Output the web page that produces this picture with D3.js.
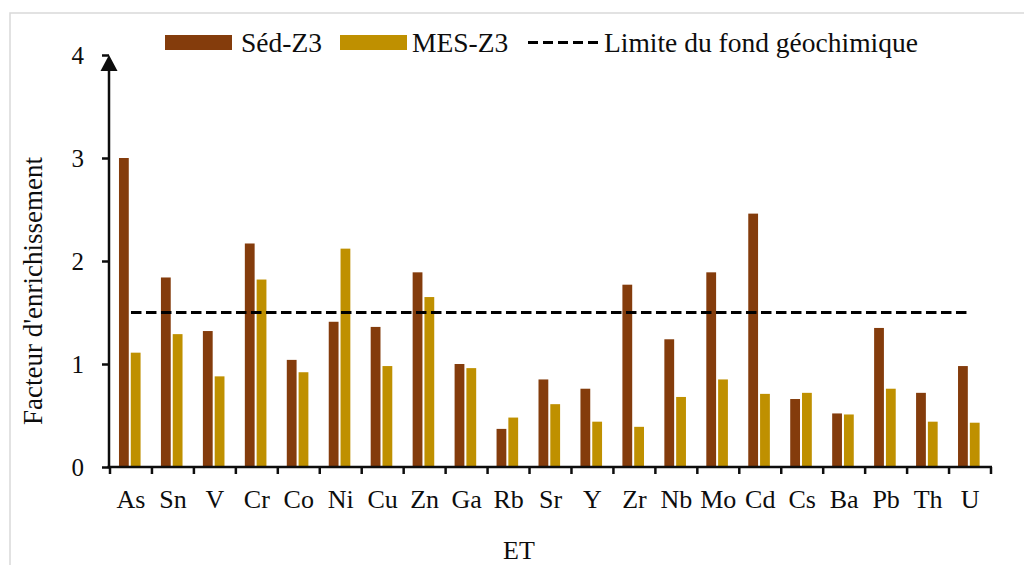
<!DOCTYPE html>
<html>
<head>
<meta charset="utf-8">
<script src="https://cdn.jsdelivr.net/npm/d3@7"></script>
<style>
  html, body { margin: 0; padding: 0; background: #fff; }
  svg { display: block; font-family: "Liberation Serif", "Times New Roman", serif; }
</style>
</head>
<body>
<svg id="chart" width="1024" height="565"></svg>
<script>
const categories = ["As","Sn","V","Cr","Co","Ni","Cu","Zn","Ga","Rb","Sr","Y","Zr","Nb","Mo","Cd","Cs","Ba","Pb","Th","U"];
const seriesNames = ["Séd-Z3", "MES-Z3"];
const sedZ3 = [3.00,1.84,1.32,2.17,1.04,1.41,1.36,1.89,1.00,0.37,0.85,0.76,1.77,1.24,1.89,2.46,0.66,0.52,1.35,0.72,0.98];
const mesZ3 = [1.11,1.29,0.88,1.82,0.92,2.12,0.98,1.65,0.96,0.48,0.61,0.44,0.39,0.68,0.85,0.71,0.72,0.51,0.76,0.44,0.43];
const backgroundLimit = 1.5;
const limitLabel = "Limite du fond géochimique";
const yTicks = [0,1,2,3,4];
const xTitle = "ET";
const yTitle = "Facteur d'enrichissement";

const colors = {"Séd-Z3": "#843C0C", "MES-Z3": "#BF9000"};
const svg = d3.select("#chart");

// outer chart border
svg.append("rect").attr("x", 10).attr("y", 13).attr("width", 1030).attr("height", 570)
  .attr("fill", "none").attr("stroke", "#d9d9d9").attr("stroke-width", 1.5);

const x = d3.scaleBand().domain(categories).range([110, 991]).paddingInner(0).paddingOuter(0);
const x1 = d3.scaleBand().domain(seriesNames).range([-1.2, x.bandwidth() - 1.2]).paddingInner(0.17).paddingOuter(0.8625);
const y = d3.scaleLinear().domain([0, 4]).range([467, 55]);

const rows = categories.map((c, i) => ({cat: c, values: [
  {name: "Séd-Z3", v: sedZ3[i]}, {name: "MES-Z3", v: mesZ3[i]}]}));

// bars
const g = svg.append("g");
g.selectAll("g.cat").data(rows).join("g").attr("class", "cat")
  .attr("transform", d => `translate(${x(d.cat)},0)`)
  .selectAll("rect").data(d => d.values).join("rect")
  .attr("x", d => x1(d.name)).attr("width", x1.bandwidth())
  .attr("y", d => y(d.v)).attr("height", d => y(0) - y(d.v))
  .attr("fill", d => colors[d.name]);

// limit line
svg.append("line")
  .attr("x1", x(categories[0]) + x.bandwidth()/2)
  .attr("x2", x(categories[categories.length-1]) + x.bandwidth()/2)
  .attr("y1", y(backgroundLimit)).attr("y2", y(backgroundLimit))
  .attr("stroke", "#000").attr("stroke-width", 3).attr("stroke-dasharray", "10.5,4.5");

// y axis
const yAxis = d3.axisLeft(y).tickValues(yTicks).tickFormat(d3.format("d")).tickSize(7).tickPadding(18);
const ya = svg.append("g").attr("transform", "translate(109,0)").call(yAxis);
ya.select(".domain").remove();
ya.selectAll(".tick line").attr("stroke", "#0d0d0d").attr("stroke-width", 2.5);
ya.selectAll(".tick text").attr("font-size", 25).attr("fill", "#0d0d0d")
  .attr("font-family", "'Liberation Serif', 'Times New Roman', serif");
svg.append("line").attr("x1", 109).attr("x2", 109).attr("y1", y(0) + 1).attr("y2", y(4) + 10)
  .attr("stroke", "#0d0d0d").attr("stroke-width", 2.5);
svg.append("path")
  .attr("d", `M109,${y(4)} L100.5,${y(4) + 16} L117.5,${y(4) + 16} Z`)
  .attr("fill", "#0d0d0d");

// x axis
const xa = svg.append("g").attr("transform", `translate(0,${y(0)})`);
xa.append("line").attr("x1", 107.5).attr("x2", 992).attr("y1", 0).attr("y2", 0)
  .attr("stroke", "#0d0d0d").attr("stroke-width", 2.5);
const bounds = categories.map(c => x(c)).concat([x(categories[categories.length-1]) + x.bandwidth()]);
xa.selectAll("line.tk").data(bounds).join("line").attr("class", "tk")
  .attr("x1", d => d).attr("x2", d => d).attr("y1", 0).attr("y2", 7)
  .attr("stroke", "#0d0d0d").attr("stroke-width", 2.5);
xa.selectAll("text.lbl").data(categories).join("text").attr("class", "lbl")
  .attr("x", d => x(d) + x.bandwidth()/2).attr("y", 41)
  .attr("text-anchor", "middle").attr("font-size", 26).attr("fill", "#0d0d0d").text(d => d);

// axis titles
svg.append("text").attr("x", 519).attr("y", 559).attr("text-anchor", "middle")
  .attr("font-size", 26).attr("fill", "#0d0d0d").text(xTitle);
svg.append("text").attr("transform", "translate(42,291) rotate(-90)").attr("text-anchor", "middle")
  .attr("font-size", 27).attr("fill", "#0d0d0d").text(yTitle);

// legend
const leg = svg.append("g");
const legItems = [
  {name: "Séd-Z3", rx: 165, tx: 241},
  {name: "MES-Z3", rx: 340, tx: 412}
];
legItems.forEach(it => {
  leg.append("rect").attr("x", it.rx).attr("y", 35).attr("width", 67).attr("height", 15).attr("fill", colors[it.name]);
  leg.append("text").attr("x", it.tx).attr("y", 52).attr("font-size", 27.5).attr("fill", "#0d0d0d").text(it.name);
});
leg.append("line").attr("x1", 528).attr("x2", 598).attr("y1", 42.5).attr("y2", 42.5)
  .attr("stroke", "#000").attr("stroke-width", 3).attr("stroke-dasharray", "10,5");
leg.append("text").attr("x", 604).attr("y", 52).attr("font-size", 27.5).attr("fill", "#0d0d0d").text(limitLabel);
</script>
</body>
</html>
